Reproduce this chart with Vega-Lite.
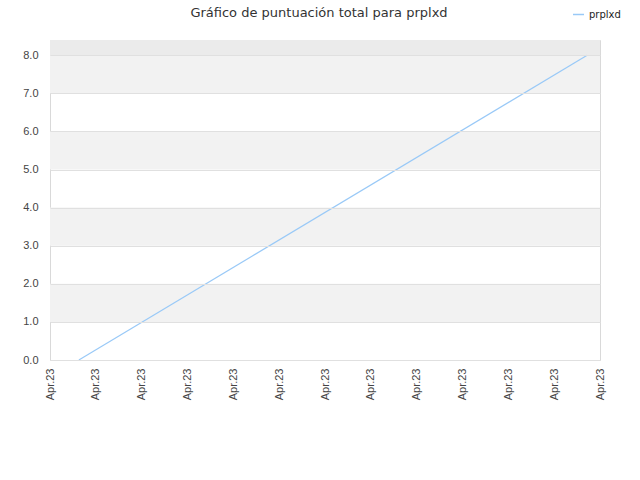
{
  "$schema": "https://vega.github.io/schema/vega-lite/v6.json",
  "width": 550,
  "height": 320,
  "autosize": {"type": "none"},
  "padding": {"left": 50, "top": 40, "right": 40, "bottom": 120},
  "background": "white",
  "title": {
    "text": "Gráfico de puntuación total para prplxd",
    "anchor": "middle",
    "dx": -6,
    "offset": -12,
    "font": "DejaVu Sans",
    "fontSize": 13,
    "fontWeight": "normal",
    "color": "#333333"
  },
  "config": {
    "view": {"stroke": "#d9d9d9", "strokeWidth": 1},
    "axis": {
      "labelFont": "Liberation Sans",
      "labelFontSize": 11,
      "labelColor": "#444444",
      "domain": false,
      "ticks": false,
      "title": null
    }
  },
  "datasets": {
    "bands": [
      {"lo": 1, "hi": 2, "fill": "#f2f2f2"},
      {"lo": 3, "hi": 4, "fill": "#f2f2f2"},
      {"lo": 5, "hi": 6, "fill": "#f2f2f2"},
      {"lo": 7, "hi": 8, "fill": "#f2f2f2"},
      {"lo": 8, "hi": 8.4, "fill": "#ebebeb"}
    ],
    "scores": [
      {"t": 0.63, "puntos": 0, "serie": "prplxd"},
      {"t": 11.72, "puntos": 8, "serie": "prplxd"}
    ]
  },
  "layer": [
    {
      "data": {"name": "bands"},
      "mark": {"type": "rect"},
      "encoding": {
        "y": {
          "field": "lo",
          "type": "quantitative",
          "scale": {"domain": [0, 8.4], "nice": false},
          "axis": {
            "values": [0, 1, 2, 3, 4, 5, 6, 7, 8],
            "format": ".1f",
            "labelPadding": 12,
            "labelOverlap": false,
            "gridColor": "#e0e0e0",
            "gridWidth": 1,
            "zindex": 1
          }
        },
        "y2": {"field": "hi"},
        "fill": {"field": "fill", "type": "nominal", "scale": null, "legend": null}
      }
    },
    {
      "data": {"name": "scores"},
      "mark": {"type": "line", "strokeWidth": 1.2},
      "encoding": {
        "x": {
          "field": "t",
          "type": "quantitative",
          "scale": {"domain": [0, 12], "nice": false, "zero": false},
          "axis": {
            "values": [0, 1, 2, 3, 4, 5, 6, 7, 8, 9, 10, 11, 12],
            "labelExpr": "'Apr.23'",
            "labelAngle": -90,
            "labelAlign": "right",
            "labelBaseline": "middle",
            "labelPadding": 8,
            "grid": false,
            "labelOverlap": false,
            "labelFlush": false
          }
        },
        "y": {
          "field": "puntos",
          "type": "quantitative",
          "scale": {"domain": [0, 8.4], "nice": false},
          "axis": {
            "values": [0, 1, 2, 3, 4, 5, 6, 7, 8],
            "format": ".1f",
            "labelPadding": 12,
            "labelOverlap": false,
            "gridColor": "#e0e0e0",
            "gridWidth": 1,
            "zindex": 1
          }
        },
        "color": {
          "field": "serie",
          "type": "nominal",
          "scale": {"range": ["#99c9f7"]},
          "legend": {
            "title": null,
            "orient": "none",
            "legendX": 522,
            "legendY": -32,
            "symbolType": "stroke",
            "symbolSize": 120,
            "symbolStrokeWidth": 1.5,
            "labelFont": "DejaVu Sans",
            "labelFontSize": 10,
            "labelColor": "#222222"
          }
        }
      }
    }
  ]
}
